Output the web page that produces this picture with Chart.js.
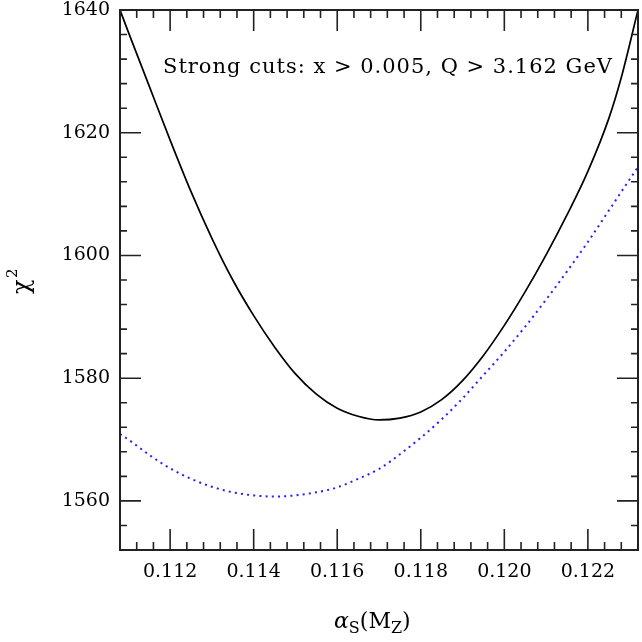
<!DOCTYPE html>
<html>
<head>
<meta charset="utf-8">
<script src="https://cdn.jsdelivr.net/npm/chart.js@4.4.0/dist/chart.umd.min.js"></script>
<style>
  html, body { margin: 0; padding: 0; background: #fff; }
  #wrap { width: 642px; height: 642px; }
</style>
</head>
<body>
<div id="wrap"><canvas id="myChart"></canvas></div>
<script>
// alpha_s(M_Z) values and chi^2
var alphaStrong = [0.1108, 0.1110, 0.1115, 0.1120, 0.1125, 0.1130, 0.1135, 0.1140, 0.1145, 0.1150, 0.1155, 0.1160, 0.1165, 0.1170, 0.1175, 0.1180, 0.1185, 0.1190, 0.1195, 0.1200, 0.1205, 0.1210, 0.1215, 0.1220, 0.1225, 0.1228, 0.1232];
var chi2Strong  = [1640, 1636.4, 1627.6, 1618.8, 1610.4, 1602.8, 1596.0, 1590.2, 1585.1, 1580.7, 1577.4, 1575.1, 1573.8, 1573.2, 1573.5, 1574.5, 1576.5, 1579.6, 1583.7, 1588.6, 1594.1, 1600.1, 1606.6, 1613.7, 1622.3, 1629.0, 1640];

var alphaDotted = [0.1108, 0.1110, 0.1115, 0.1120, 0.1125, 0.1130, 0.1135, 0.1140, 0.1145, 0.1150, 0.1155, 0.1160, 0.1165, 0.1170, 0.1175, 0.1180, 0.1185, 0.1190, 0.1195, 0.1200, 0.1205, 0.1210, 0.1215, 0.1220, 0.1225, 0.1230, 0.1232];
var chi2Dotted  = [1570.9, 1570.0, 1567.5, 1565.3, 1563.6, 1562.3, 1561.4, 1560.9, 1560.7, 1560.9, 1561.4, 1562.2, 1563.6, 1565.2, 1567.6, 1570.3, 1573.3, 1576.7, 1580.5, 1584.3, 1588.4, 1592.8, 1597.4, 1602.2, 1607.3, 1612.4, 1614.4];

var xTickLabels = [0.112, 0.114, 0.116, 0.118, 0.120, 0.122];
var yTickLabels = [1560, 1580, 1600, 1620, 1640];

var X_MIN = 0.1108, X_MAX = 0.1232, Y_MIN = 1552, Y_MAX = 1640;

function toPoints(xs, ys) {
  return xs.map(function(v, i) { return {x: v, y: ys[i]}; });
}

// frame with inward ticks, axis titles and the caption
var framePlugin = {
  id: 'frame',
  afterDraw: function(chart) {
    var ctx = chart.ctx, a = chart.chartArea;
    var xs = chart.scales.x, ys = chart.scales.y;
    ctx.save();
    ctx.strokeStyle = '#222';
    ctx.lineWidth = 2;
    ctx.strokeRect(a.left, a.top, a.right - a.left, a.bottom - a.top);
    ctx.lineWidth = 1.6;
    ctx.beginPath();
    // x ticks every 0.0004, long every 0.002
    for (var k = 0; k <= 31; k++) {
      var n = 1108 + 4 * k;
      var px = xs.getPixelForValue(n / 10000);
      var len = ((n - 1120) % 20 === 0) ? 21 : 8;
      ctx.moveTo(px, a.bottom); ctx.lineTo(px, a.bottom - len);
      ctx.moveTo(px, a.top); ctx.lineTo(px, a.top + len);
    }
    // y ticks every 4, long every 20
    for (var j = 0; j <= 22; j++) {
      var v = Y_MIN + 4 * j;
      var py = ys.getPixelForValue(v);
      var l = ((v - 1560) % 20 === 0) ? 21 : 7;
      ctx.moveTo(a.left, py); ctx.lineTo(a.left + l, py);
      ctx.moveTo(a.right, py); ctx.lineTo(a.right - l, py);
    }
    ctx.stroke();

    ctx.fillStyle = '#000';
    ctx.textBaseline = 'alphabetic';
    // caption
    ctx.font = '21px "DejaVu Serif"';
    ctx.letterSpacing = '1px';
    ctx.textAlign = 'left';
    var cw = ctx.measureText('Strong cuts: x > 0.005, Q > 3.162 GeV').width;
    ctx.fillText('Strong cuts: x > 0.005, Q > 3.162 GeV', 388 - cw / 2, 73);
    ctx.letterSpacing = '0px';

    // x title: alpha_S(M_Z)
    var x0 = 334, base = 628;
    ctx.font = 'italic 22px "DejaVu Serif"';
    ctx.fillText('\u03b1', x0, base);
    x0 += ctx.measureText('\u03b1').width;
    ctx.font = '16px "DejaVu Serif"';
    ctx.fillText('S', x0, base + 5);
    x0 += ctx.measureText('S').width;
    ctx.font = '22px "DejaVu Serif"';
    ctx.fillText('(M', x0, base);
    x0 += ctx.measureText('(M').width;
    ctx.font = '16px "DejaVu Serif"';
    ctx.fillText('Z', x0, base + 5);
    x0 += ctx.measureText('Z').width;
    ctx.font = '22px "DejaVu Serif"';
    ctx.fillText(')', x0, base);

    // y title: chi^2
    ctx.translate(29, 287);
    ctx.rotate(-Math.PI / 2);
    ctx.font = '24px "DejaVu Serif"';
    ctx.fillText('\u03c7', -7, 0);
    ctx.font = '15px "DejaVu Serif"';
    ctx.fillText('2', 9, -12);
    ctx.restore();
  }
};

var ctx = document.getElementById('myChart').getContext('2d');
var chart = new Chart(ctx, {
  type: 'line',
  data: {
    datasets: [{
      label: 'strong cuts',
      data: toPoints(alphaStrong, chi2Strong),
      borderColor: '#000',
      borderWidth: 1.7,
      pointRadius: 0,
      cubicInterpolationMode: 'monotone',
      fill: false
    }, {
      label: 'dotted',
      data: toPoints(alphaDotted, chi2Dotted),
      borderColor: '#2020ff',
      borderWidth: 2,
      borderDash: [2, 4.2],
      pointRadius: 0,
      cubicInterpolationMode: 'monotone',
      fill: false
    }]
  },
  options: {
    responsive: true,
    maintainAspectRatio: false,
    animation: false,
    layout: { padding: { top: 10, right: 4, left: 0, bottom: 0 } },
    plugins: { legend: { display: false }, tooltip: { enabled: false } },
    scales: {
      x: {
        type: 'linear',
        min: X_MIN, max: X_MAX,
        grid: { display: false, drawTicks: false },
        border: { display: false },
        afterBuildTicks: function(s) { s.ticks = xTickLabels.map(function(v) { return {value: v}; }); },
        afterFit: function(s) { s.height = 92; s.paddingLeft = 0; s.paddingRight = 0; },
        ticks: {
          padding: 11,
          color: '#000',
          font: { family: 'DejaVu Serif', size: 19 },
          maxRotation: 0,
          callback: function(v) { return v.toFixed(3); }
        }
      },
      y: {
        min: Y_MIN, max: Y_MAX,
        grid: { display: false, drawTicks: false },
        border: { display: false },
        afterBuildTicks: function(s) { s.ticks = yTickLabels.map(function(v) { return {value: v}; }); },
        afterFit: function(s) { s.width = 120; s.paddingTop = 0; s.paddingBottom = 0; },
        ticks: {
          padding: 10,
          color: '#000',
          font: { family: 'DejaVu Serif', size: 19 },
          callback: function(v) { return String(v); }
        }
      }
    }
  },
  plugins: [framePlugin]
});
</script>
</body>
</html>
